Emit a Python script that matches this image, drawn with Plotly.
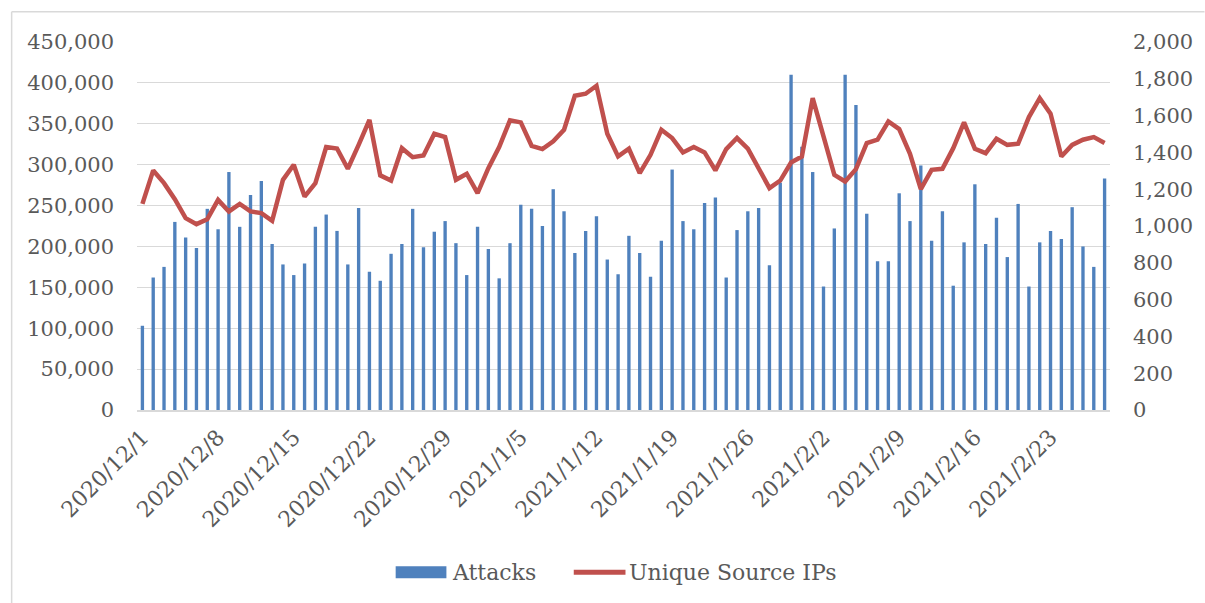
import pandas as pd
import plotly.graph_objects as go

# Daily observations, 2020/12/1 - 2021/2/28
dates = pd.date_range("2020-12-01", "2021-02-28", freq="D")
categories = [f"{d.year}/{d.month}/{d.day}" for d in dates]

attacks = [
    103000, 162000, 175000, 230000, 211000, 198000, 246000, 221000, 291000, 224000,
    263000, 280000, 203000, 178000, 165000, 179000, 224000, 239000, 219000, 178000,
    247000, 169000, 158000, 191000, 203000, 246000, 199000, 218000, 231000, 204000,
    165000, 224000, 197000, 161000, 204000, 251000, 246000, 225000, 270000, 243000,
    192000, 219000, 237000, 184000, 166000, 213000, 192000, 163000, 207000, 294000,
    231000, 221000, 253000, 260000, 162000, 220000, 243000, 247000, 177000, 278000,
    410000, 322000, 291000, 151000, 222000, 410000, 373000, 240000, 182000, 182000,
    265000, 231000, 299000, 207000, 243000, 152000, 205000, 276000, 203000, 235000,
    187000, 252000, 151000, 205000, 219000, 209000, 248000, 200000, 175000, 283000,
]

unique_ips = [
    1120, 1302, 1233, 1146, 1043, 1010, 1037, 1142, 1079, 1120,
    1079, 1070, 1028, 1251, 1333, 1160, 1233, 1429, 1421, 1311,
    1441, 1577, 1275, 1247, 1423, 1374, 1383, 1501, 1483, 1251,
    1284, 1179, 1314, 1429, 1574, 1563, 1436, 1418, 1460, 1523,
    1708, 1719, 1762, 1501, 1378, 1420, 1287, 1387, 1523, 1478,
    1400, 1429, 1400, 1302, 1418, 1478, 1420, 1314, 1206, 1247,
    1345, 1378, 1695, 1487, 1278, 1242, 1309, 1451, 1469, 1568,
    1527, 1392, 1200, 1305, 1311, 1423, 1563, 1420, 1396, 1474,
    1441, 1447, 1592, 1695, 1610, 1378, 1441, 1469, 1483, 1451,
]

tick_labels = categories[::7]
left_ticks = list(range(0, 450001, 50000))
right_ticks = list(range(0, 2001, 200))

BLUE = "#4F81BD"
RED = "#C0504D"
TEXT = "#595959"
GRID = "#D9D9D9"
FONT = "DejaVu Serif"
FS = 21

W, H = 1205, 603
L, R, T, B = 137, 1115, 42.3, 410

def px(xp):
    return (xp - L) / (R - L)

def py(yp):
    return (B - yp) / (B - T)

fig = go.Figure()
fig.add_trace(go.Bar(x=categories, y=attacks, name="Attacks",
                     marker=dict(color=BLUE, line=dict(width=0)),
                     showlegend=False))
fig.add_trace(go.Scatter(x=categories, y=unique_ips, name="Unique Source IPs",
                         yaxis="y2", mode="lines",
                         line=dict(color=RED, width=4.5),
                         showlegend=False))

fig.update_layout(
    width=W, height=H,
    margin=dict(l=L, r=W - R, t=T, b=H - B),
    paper_bgcolor="white", plot_bgcolor="white",
    font=dict(family=FONT, size=FS, color=TEXT),
    bargap=0.69,
    xaxis=dict(type="category", tickmode="array", tickvals=tick_labels,
               ticktext=tick_labels, tickangle=-45, showgrid=False,
               showline=True, linecolor=GRID, linewidth=1.5,
               ticks="", ticklabelstandoff=4,
               tickfont=dict(family=FONT, size=22, color=TEXT)),
    yaxis=dict(range=[0, 450000], tickvals=left_ticks, tickformat=",",
               showgrid=True, gridcolor=GRID, gridwidth=1.3,
               zeroline=False, ticks="", ticklabelstandoff=22,
               tickfont=dict(family=FONT, size=FS, color=TEXT)),
    yaxis2=dict(range=[0, 2000], tickvals=right_ticks, tickformat=",",
                overlaying="y", side="right", showgrid=False,
                zeroline=False, ticks="", ticklabelstandoff=22,
                tickfont=dict(family=FONT, size=FS, color=TEXT)),
)

shapes = [
    # outer chart frame (left and top edges)
    dict(type="line", xref="paper", yref="paper",
         x0=px(11), x1=px(11), y0=py(610), y1=py(12),
         line=dict(color=GRID, width=1.5)),
    dict(type="line", xref="paper", yref="paper",
         x0=px(11), x1=px(1210), y0=py(12), y1=py(12),
         line=dict(color=GRID, width=1.5)),
    # legend swatches
    dict(type="rect", xref="paper", yref="paper",
         x0=px(397), x1=px(448), y0=py(566), y1=py(578),
         fillcolor=BLUE, line=dict(width=0)),
    dict(type="line", xref="paper", yref="paper",
         x0=px(576), x1=px(628), y0=py(572), y1=py(572),
         line=dict(color=RED, width=5)),
]
annotations = [
    dict(text="Attacks", xref="paper", yref="paper", x=px(452), y=py(572),
         xanchor="left", yanchor="middle", showarrow=False,
         font=dict(family=FONT, size=22, color=TEXT)),
    dict(text="Unique Source IPs", xref="paper", yref="paper", x=px(630), y=py(572),
         xanchor="left", yanchor="middle", showarrow=False,
         font=dict(family=FONT, size=22, color=TEXT)),
]
fig.update_layout(shapes=shapes, annotations=annotations)

fig.write_html("out.html")
